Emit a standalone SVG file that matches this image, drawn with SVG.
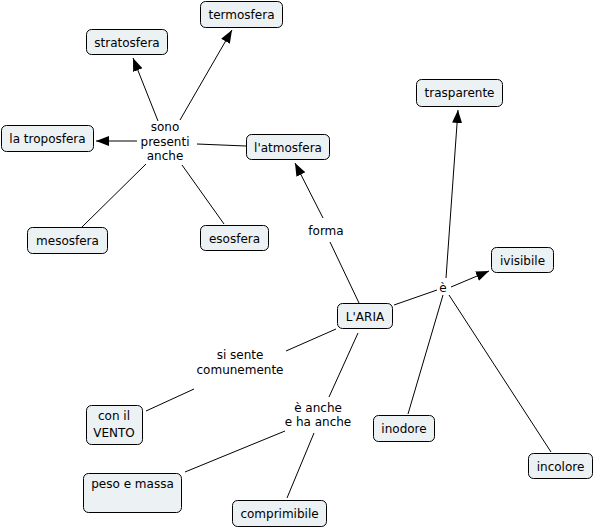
<svg xmlns="http://www.w3.org/2000/svg" width="594" height="528" viewBox="0 0 594 528">
<style>
.n{fill:#ecf1f4;stroke:#000;stroke-width:1}
text{font-family:"DejaVu Sans",Verdana,sans-serif;font-size:12px;fill:#000;text-anchor:middle}
.c line{stroke:#000;stroke-width:1}
</style>
<defs>
<marker id="a" markerUnits="userSpaceOnUse" markerWidth="14" markerHeight="12" refX="13" refY="5" orient="auto">
<path d="M0,0 L13,5 L0,10 Z" fill="#000"/>
</marker>
</defs>
<rect width="594" height="528" fill="#fff"/>
<g class="c">
<line x1="158" y1="121" x2="133" y2="58" marker-end="url(#a)"/>
<line x1="180" y1="120" x2="232" y2="30" marker-end="url(#a)"/>
<line x1="137" y1="141" x2="96" y2="141" marker-end="url(#a)"/>
<line x1="246" y1="146" x2="197" y2="144"/>
<line x1="146" y1="164" x2="82" y2="227"/>
<line x1="182" y1="165" x2="224" y2="224"/>
<line x1="359" y1="303" x2="330" y2="242"/>
<line x1="323" y1="218" x2="295" y2="163" marker-end="url(#a)"/>
<line x1="394" y1="305" x2="437" y2="290"/>
<line x1="451" y1="287" x2="489" y2="271" marker-end="url(#a)"/>
<line x1="446" y1="278" x2="458" y2="110" marker-end="url(#a)"/>
<line x1="443" y1="295" x2="408" y2="414"/>
<line x1="449" y1="295" x2="551" y2="452"/>
<line x1="336" y1="329" x2="286" y2="351"/>
<line x1="194" y1="389" x2="146" y2="411"/>
<line x1="358" y1="333" x2="329" y2="397"/>
<line x1="285" y1="431" x2="185" y2="472"/>
<line x1="314" y1="433" x2="287" y2="498"/>
</g>
<g id="lp1"><text x="165" y="131">sono</text><text x="165" y="146">presenti</text><text x="165" y="160">anche</text></g>
<g id="lp2"><text x="326" y="235">forma</text></g>
<g id="lp3"><text x="443" y="292">è</text></g>
<g id="lp4"><text x="240" y="359">si sente</text><text x="240" y="374">comunemente</text></g>
<g id="lp5"><text x="318" y="412">è anche</text><text x="318" y="426">e ha anche</text></g>
<g id="termosfera"><rect class="n" x="200.5" y="1.5" width="82" height="26" rx="5"/><text x="241.5" y="19">termosfera</text></g>
<g id="stratosfera"><rect class="n" x="86.5" y="29.5" width="81" height="25" rx="5"/><text x="127" y="47">stratosfera</text></g>
<g id="troposfera"><rect class="n" x="1.5" y="125.5" width="92" height="26" rx="5"/><text x="47.5" y="143">la troposfera</text></g>
<g id="atmosfera"><rect class="n" x="246.5" y="134.5" width="83" height="25" rx="5"/><text x="288" y="152">l'atmosfera</text></g>
<g id="mesosfera"><rect class="n" x="27.5" y="227.5" width="80" height="26" rx="5"/><text x="67.5" y="245">mesosfera</text></g>
<g id="esosfera"><rect class="n" x="200.5" y="225.5" width="68" height="25" rx="5"/><text x="234.5" y="243">esosfera</text></g>
<g id="trasparente"><rect class="n" x="416.5" y="79.5" width="86" height="27" rx="5"/><text x="459.5" y="97">trasparente</text></g>
<g id="ivisibile"><rect class="n" x="491.5" y="247.5" width="62" height="25" rx="5"/><text x="522.5" y="265">ivisibile</text></g>
<g id="aria"><rect class="n" x="337.5" y="303.5" width="55" height="25" rx="5"/><text x="365" y="321">L'ARIA</text></g>
<g id="inodore"><rect class="n" x="373.5" y="415.5" width="61" height="26" rx="5"/><text x="404" y="433">inodore</text></g>
<g id="incolore"><rect class="n" x="528.5" y="453.5" width="64" height="25" rx="5"/><text x="560.5" y="471">incolore</text></g>
<g id="vento"><rect class="n" x="86.5" y="405.5" width="56" height="39" rx="5"/><text x="114" y="420">con il</text><text x="114" y="437">VENTO</text></g>
<g id="peso"><rect class="n" x="83.5" y="473.5" width="98" height="39" rx="5"/><text x="132.5" y="488">peso e massa</text></g>
<g id="comprimibile"><rect class="n" x="232.5" y="500.5" width="94" height="26" rx="5"/><text x="279.5" y="518">comprimibile</text></g>
</svg>
